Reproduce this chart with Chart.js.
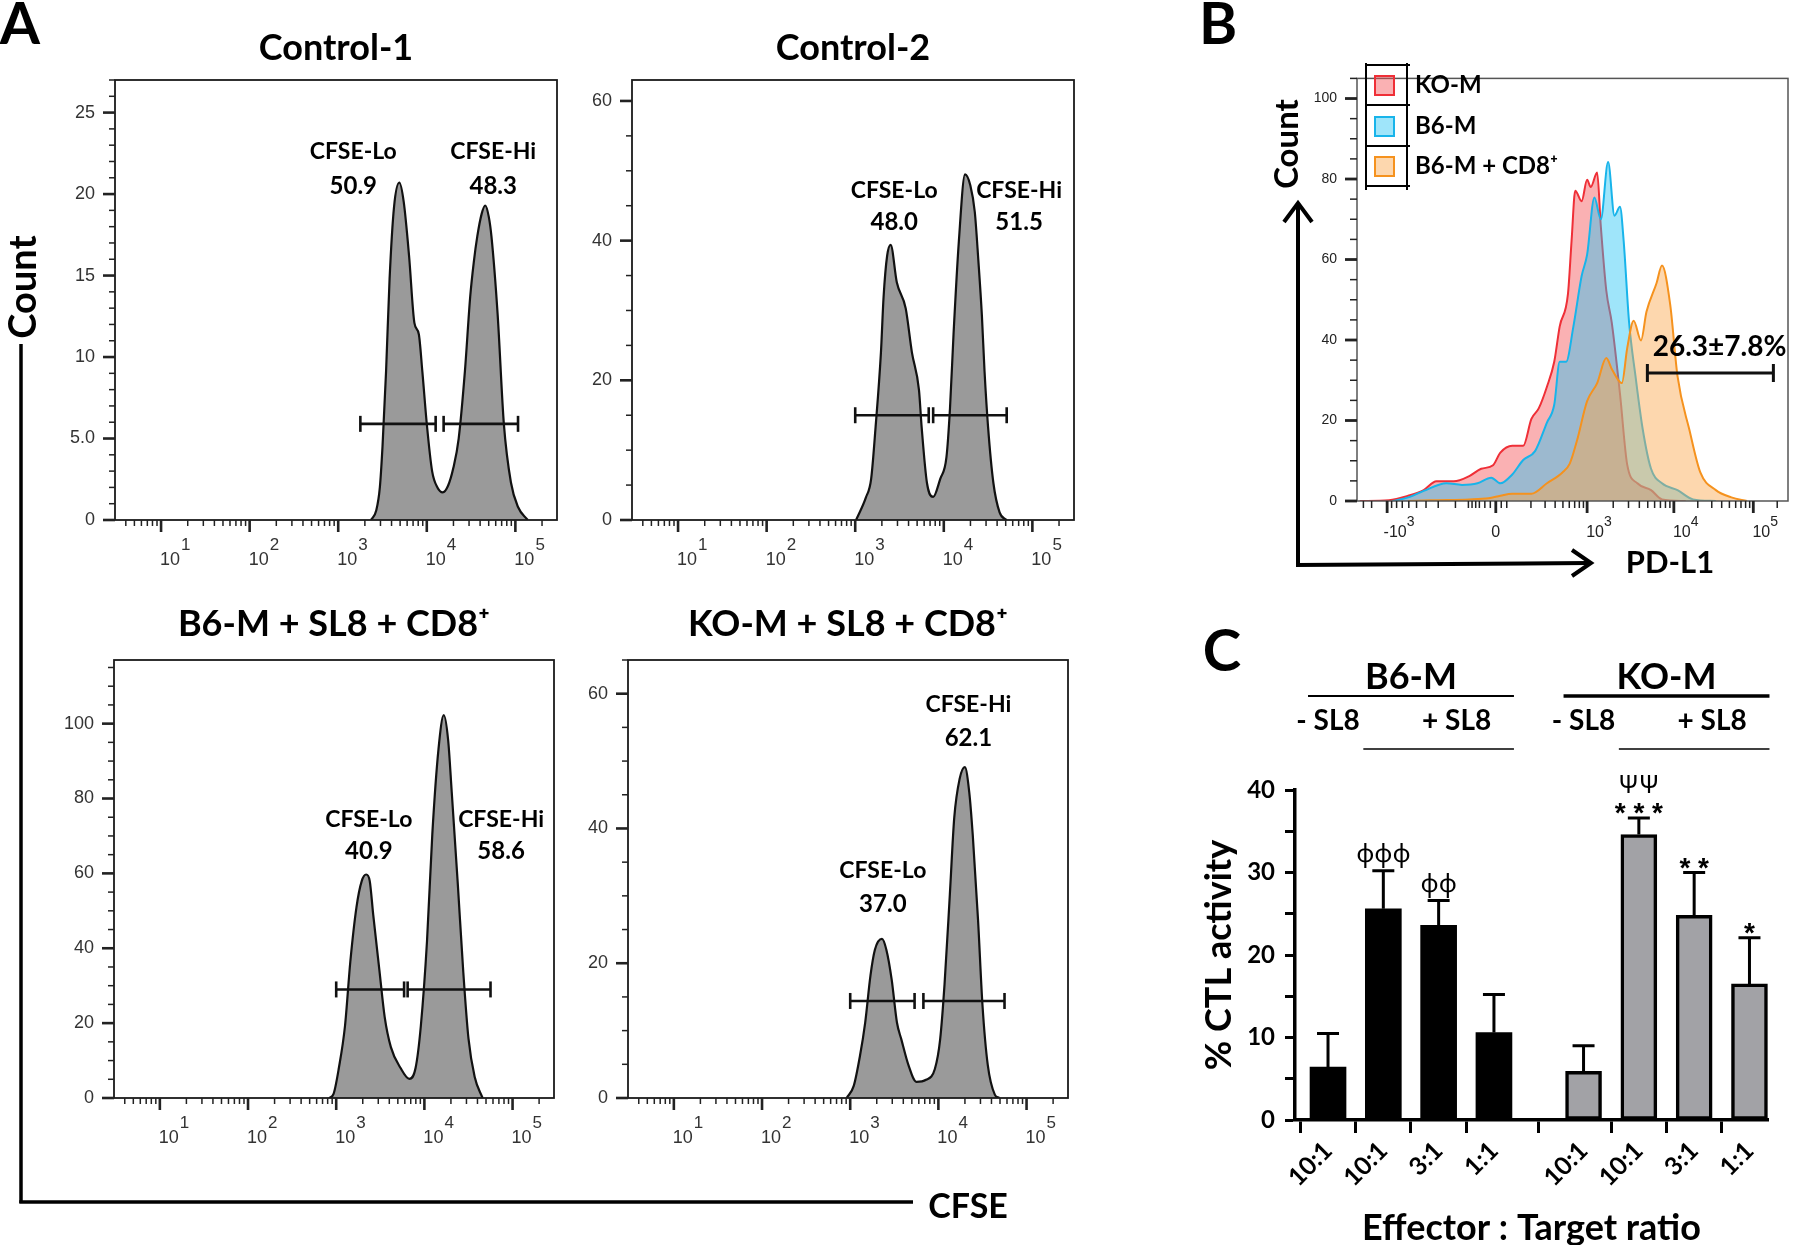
<!DOCTYPE html>
<html lang="en">
<head>
<meta charset="utf-8">
<title>CFSE killing assay, PD-L1 histogram and CTL activity</title>
<script src="https://cdn.jsdelivr.net/npm/chart.js@4.4.1/dist/chart.umd.min.js"></script>
<style>
  html, body { margin:0; padding:0; background:#fff; }
  #fig { position:relative; width:1800px; height:1245px; overflow:hidden; background:#fff; }
  #charts canvas { position:absolute; }
  .txt { position:absolute; font-family:Lato,"Open Sans",sans-serif; font-weight:700; color:#000;
         line-height:1; white-space:nowrap; transform:translate(-50%,-50%); }
  .vert { transform:translate(-50%,-50%) rotate(-90deg); }
  #deco { position:absolute; left:0; top:0; }
  .leg { position:absolute; }
</style>
</head>
<body>
<div id="fig">
  <div id="charts"></div>
  <svg id="deco" width="1800" height="1245">
    <line x1="21" y1="344" x2="21" y2="1203" stroke="#000" stroke-width="3.5"/>
    <line x1="19.3" y1="1202" x2="913" y2="1202" stroke="#000" stroke-width="3.5"/>
    <line x1="1298" y1="566" x2="1298" y2="205" stroke="#000" stroke-width="4"/>
    <polyline points="1284,222 1298,203 1312,222" fill="none" stroke="#000" stroke-width="4"/>
    <line x1="1296" y1="565" x2="1589" y2="563" stroke="#000" stroke-width="4"/>
    <polyline points="1572,550 1591,563 1572,576" fill="none" stroke="#000" stroke-width="4"/>
  </svg>
  <div class="txt" style="left:20px;top:22px;font-size:58px">A</div>
  <div class="txt" style="left:1218px;top:22px;font-size:58px">B</div>
  <div class="txt" style="left:1222px;top:649px;font-size:58px">C</div>
  <div class="txt vert" style="left:21px;top:287px;font-size:38px">Count</div>
  <div class="txt" style="left:968px;top:1205px;font-size:34px">CFSE</div>
  <div class="txt vert" style="left:1285px;top:144px;font-size:33px">Count</div>
  <div class="txt" style="left:1670px;top:561px;font-size:31px">PD-L1</div>
  <div id="legB"></div>
</div>
<script>
// ======================= DATA =======================
// Panel A: CFSE histograms, x = log10(CFSE fluorescence), y = count
const A_X_DECADES = [1, 2, 3, 4, 5];
const A_X_BASE = ['10', '10', '10', '10', '10'];
const A_X_EXP  = ['1', '2', '3', '4', '5'];
const A_GATE_NAMES = ['CFSE-Lo', 'CFSE-Hi'];

const CTRL1_TITLE = 'Control-1';
const CTRL1_X = [3.37,3.43,3.47,3.50,3.54,3.58,3.63,3.69,3.74,3.80,3.86,3.91,3.95,4.00,4.06,4.12,4.18,4.24,4.30,4.36,4.43,4.49,4.53,4.57,4.62,4.66,4.70,4.73,4.80,4.87,4.95,5.03,5.14];
const CTRL1_Y = [0,0.6,2.0,4.5,9.1,14.8,19.2,20.7,19.5,16.2,12.1,11.4,9.1,5.9,3.0,2.0,1.7,2.1,3.2,5.0,9.1,13.7,15.8,17.4,18.8,19.3,18.6,17.4,12.6,5.9,2.3,0.8,0];
const CTRL1_Y_TICKS = ['0', '5.0', '10', '15', '20', '25'];
const CTRL1_GATES = [[3.25, 4.10], [4.19, 5.03]];
const CTRL1_GATE_Y = 5.9;
const CTRL1_PCT = ['50.9', '48.3'];

const CTRL2_TITLE = 'Control-2';
const CTRL2_X = [3.01,3.12,3.18,3.23,3.29,3.32,3.36,3.40,3.47,3.57,3.64,3.72,3.75,3.81,3.88,3.96,4.03,4.07,4.11,4.17,4.24,4.30,4.35,4.39,4.43,4.46,4.50,4.56,4.63,4.71];
const CTRL2_Y = [0,3.2,5.9,13.3,23.9,31.9,37.8,39.4,34,30.3,24,18.6,13.3,5.3,3.3,5.9,9,16,26.6,39.9,49.5,47.9,44.1,37.2,29.3,21.3,13.3,5.3,1.1,0];
const CTRL2_Y_TICKS = ['0', '20', '40', '60'];
const CTRL2_GATES = [[3.00, 3.83], [3.88, 4.71]];
const CTRL2_GATE_Y = 15;
const CTRL2_PCT = ['48.0', '51.5'];

const B6SL8_TITLE = 'B6-M + SL8 + CD8⁺';
const B6SL8_X = [2.92,2.97,3.03,3.10,3.16,3.23,3.29,3.34,3.38,3.42,3.49,3.55,3.62,3.73,3.83,3.90,3.96,4.03,4.09,4.16,4.22,4.27,4.31,4.38,4.44,4.50,4.57,4.66];
const B6SL8_Y = [0,1.1,8,19.3,36.4,51,58,59.7,58,48.9,34.1,21.6,13.6,8,5.1,8,19.3,42,70.5,93.2,102.3,95.5,81.8,56.8,34.1,15.9,5.7,0];
const B6SL8_Y_TICKS = ['0', '20', '40', '60', '80', '100'];
const B6SL8_GATES = [[3.00, 3.77], [3.81, 4.75]];
const B6SL8_GATE_Y = 29;
const B6SL8_PCT = ['40.9', '58.6'];

const KOSL8_TITLE = 'KO-M + SL8 + CD8⁺';
const KOSL8_X = [2.96,3.04,3.11,3.17,3.23,3.28,3.36,3.41,3.47,3.53,3.58,3.66,3.75,3.86,3.96,4.02,4.07,4.13,4.18,4.24,4.30,4.35,4.39,4.45,4.50,4.56,4.64,4.69];
const KOSL8_Y = [0,1.8,6.2,11.2,18.2,22,23.6,22,17.6,11.2,8.7,4.9,2.4,2.7,4.3,8.7,16.9,30.2,41.6,47.3,49.1,45.4,39,26.4,13.8,4.9,0.5,0];
const KOSL8_Y_TICKS = ['0', '20', '40', '60'];
const KOSL8_GATES = [[3.00, 3.73], [3.83, 4.75]];
const KOSL8_GATE_Y = 14.4;
const KOSL8_PCT = ['37.0', '62.1'];

// Panel B: PD-L1 overlay (x in biexponential display units: 0 -> "0", 1 -> 10^3)
const B_SERIES = ['KO-M', 'B6-M', 'B6-M + CD8⁺'];
const B_X_TICK_VALUES = [-1.19, 0, 1, 1.95, 2.82];
const B_X_BASE = ['-10', '0', '10', '10', '10'];
const B_X_EXP  = ['3', '', '3', '4', '5'];
const B_Y_TICKS = ['0', '20', '40', '60', '80', '100'];
const KOM_X = [-1.49,-1.17,-0.96,-0.79,-0.65,-0.46,-0.29,-0.16,-0.03,0.05,0.18,0.30,0.39,0.47,0.56,0.64,0.70,0.79,0.83,0.87,0.94,1.00,1.04,1.11,1.15,1.21,1.27,1.36,1.44,1.55,1.70,1.82,2.08];
const KOM_Y = [0,0.2,1.3,2.7,4.9,4.9,6.2,8,8.9,12,13.7,13.7,20.4,23,28.4,34.6,43.4,51.4,64.7,77.1,74.5,79.8,78,81.6,68.3,52.3,44.3,26.6,8.9,4.4,2.7,0.4,0];
const B6M_X = [-1.13,-0.96,-0.79,-0.54,-0.37,-0.20,-0.05,0.05,0.18,0.30,0.43,0.56,0.64,0.70,0.77,0.85,0.94,1.00,1.08,1.15,1.23,1.30,1.36,1.40,1.46,1.53,1.61,1.70,1.82,1.99,2.16,2.41];
const B6M_Y = [0,0.9,2.5,4.4,4.0,4.4,5.8,4.4,6.6,10.2,12.4,19.5,23.9,34.6,34.6,43.4,55.9,61.2,75.4,70,84.2,70.9,73.1,64.7,44.3,31,17.7,8,4.4,2.7,0.4,0];
const B6CD8_X = [-0.96,-0.71,-0.29,-0.08,0.05,0.18,0.39,0.56,0.73,0.81,0.89,1.00,1.11,1.21,1.27,1.34,1.38,1.44,1.51,1.59,1.65,1.76,1.82,1.91,1.99,2.12,2.24,2.41,2.58,2.75];
const B6CD8_Y = [0,0.2,0.4,0.7,1.3,1.8,1.8,4.4,7.1,9.3,15.1,24.8,29.3,35.5,32.8,30.1,29.3,38.1,44.8,39.9,47,54.1,58.5,48.8,31,17.7,7.1,2.7,0.9,0];
const B_GATE = [1.66, 3.04];
const B_GATE_Y = 31.8;
const B_GATE_LABEL = '26.3±7.8%';

// Panel C: % CTL activity (mean and upper SD)
const C_GROUPS = ['B6-M', 'KO-M'];
const C_PEPTIDE = ['- SL8', '+ SL8'];
const C_RATIOS = ['10:1', '10:1', '3:1', '1:1', '10:1', '10:1', '3:1', '1:1'];
const B6_MEAN = [6.4, 25.6, 23.6, 10.6];
const B6_SD   = [4.1, 4.6, 3.0, 4.6];
const KO_MEAN = [5.9, 34.6, 24.8, 16.5];
const KO_SD   = [3.1, 2.0, 5.2, 5.6];
const B6_SIG  = [[], ['ϕϕϕ'], ['ϕϕ'], []];
const KO_SIG  = [[], ['* * *', 'ΨΨ'], ['* *'], ['*']];
const C_Y_TICKS = ['0', '10', '20', '30', '40'];

// ======================= HELPERS =======================
const BOLD = 'Lato, "Open Sans", sans-serif';
const AXF = '"Liberation Sans", Arial, sans-serif';
const holder = document.getElementById('charts');
function makeCanvas(left, top, width, height) {
  const c = document.createElement('canvas');
  c.width = width; c.height = height;
  c.style.left = left + 'px'; c.style.top = top + 'px';
  c.style.width = width + 'px'; c.style.height = height + 'px';
  holder.appendChild(c);
  return c;
}
const pts = (xs, ys) => xs.map((x, i) => ({ x, y: ys[i] }));
const near = (a, b) => Math.abs(a - b) < 1e-6;

// FlowJo-style ticks (long majors, short minors) and "10^n" labels drawn through the chart's scales
const flowTicks = {
  id: 'flowTicks',
  afterDraw(chart, args, o) {
    if (!o || !o.enabled) return;
    const ctx = chart.ctx, ca = chart.chartArea;
    const xs = chart.scales.x, ys = chart.scales.y;
    const majorsX = o.labelValues || [];
    ctx.save();
    ctx.strokeStyle = o.color;
    xs.ticks.forEach(t => {
      const major = majorsX.some(v => near(v, t.value));
      const px = xs.getPixelForValue(t.value);
      ctx.lineWidth = major ? o.majorWidth : o.minorWidth;
      ctx.beginPath(); ctx.moveTo(px, ca.bottom); ctx.lineTo(px, ca.bottom + (major ? o.majorLen : o.minorLen)); ctx.stroke();
    });
    ys.ticks.forEach(t => {
      const major = !!(t.label && String(t.label).length);
      const py = ys.getPixelForValue(t.value);
      ctx.lineWidth = major ? o.majorWidth : o.minorWidth;
      ctx.beginPath(); ctx.moveTo(ca.left, py); ctx.lineTo(ca.left - (major ? o.majorLen : o.minorLen), py); ctx.stroke();
    });
    // decade labels: base text plus raised exponent
    ctx.fillStyle = o.labelColor; ctx.textBaseline = 'middle';
    majorsX.forEach((v, i) => {
      const px = xs.getPixelForValue(v);
      const base = o.base[i], exp = o.exp[i];
      ctx.font = o.baseFont; ctx.textAlign = 'center';
      if (!exp) { ctx.fillText(base, px, ca.bottom + o.dy); return; }
      ctx.fillText(base, px + o.dx, ca.bottom + o.dy);
      const w = ctx.measureText(base).width;
      ctx.font = o.expFont; ctx.textAlign = 'left';
      ctx.fillText(exp, px + o.dx + w / 2 + o.gap, ca.bottom + o.edy);
    });
    ctx.restore();
  }
};
const frame = {
  id: 'frame',
  afterDatasetsDraw(chart, args, o) {
    if (!o || !o.enabled) return;
    const ctx = chart.ctx, ca = chart.chartArea;
    ctx.save(); ctx.strokeStyle = o.color; ctx.lineWidth = o.width;
    ctx.strokeRect(ca.left, ca.top, ca.right - ca.left, ca.bottom - ca.top);
    ctx.restore();
  }
};
const textMarks = {
  id: 'textMarks',
  afterDatasetsDraw(chart, args, o) {
    if (!o || !o.items) return;
    const ctx = chart.ctx;
    ctx.save(); ctx.textAlign = 'center'; ctx.textBaseline = 'middle'; ctx.fillStyle = '#000';
    o.items.forEach(it => {
      ctx.font = it.font;
      ctx.fillText(it.text, chart.scales.x.getPixelForValue(it.x), chart.scales.y.getPixelForValue(it.y));
    });
    ctx.restore();
  }
};

function logMinorTicks(min, max) {
  const out = [];
  for (let n = 0; n <= 5; n++) for (let k = 1; k <= 9; k++) {
    const v = n + Math.log10(k);
    if (v >= min - 1e-9 && v <= max + 1e-9) out.push(v);
  }
  return out;
}

// ======================= PANEL A =======================
const A_X_MIN = 0.48, A_X_MAX = 5.47;
function flowHist(p) {
  const YW = 62, XH = 52, RP = 12, TS = 36, LH = TS * 1.2;
  const [L, T, R, B] = p.box;
  const left = L - YW;
  const width = (R - L) + YW + RP;
  const height = (B - p.canvasTop) + XH;
  const cv = makeCanvas(left, p.canvasTop, width, height);
  const padTop = p.titleCy - p.canvasTop - LH / 2;
  const padBottom = T - p.canvasTop - padTop - LH;
  const gateDs = (r) => ({
    data: [{ x: r[0], y: p.gateY }, { x: r[1], y: p.gateY }],
    borderColor: '#111', borderWidth: 2.6, fill: false,
    pointStyle: 'line', pointRadius: 8, pointRotation: 90,
    pointBorderWidth: 2.6, pointBorderColor: '#111', order: 0
  });
  const items = [];
  p.labels.forEach((lb, i) => {
    items.push({ text: A_GATE_NAMES[i], x: lb.x, y: lb.nameY, font: '700 23px ' + BOLD });
    items.push({ text: p.pct[i], x: lb.x, y: lb.pctY, font: '700 24px ' + BOLD });
  });
  return new Chart(cv, {
    type: 'line',
    data: { datasets: [
      { data: pts(p.xs, p.ys), borderColor: '#111', backgroundColor: '#9a9a9a', borderWidth: 2.2,
        fill: 'origin', pointRadius: 0, cubicInterpolationMode: 'monotone', order: 2 },
      gateDs(p.gates[0]), gateDs(p.gates[1])
    ]},
    options: {
      responsive: false, animation: false, events: [], devicePixelRatio: 1,
      layout: { padding: { left: 0, right: RP, top: 0, bottom: 0 } },
      plugins: {
        legend: { display: false }, tooltip: { enabled: false },
        title: { display: true, text: p.title, fullSize: false, color: '#000',
                 font: { family: BOLD, size: TS, weight: 'bold' },
                 padding: { top: padTop, bottom: padBottom } },
        flowTicks: { enabled: true, color: '#222', majorLen: 12, minorLen: 6, majorWidth: 2.6, minorWidth: 1.5,
                     labelValues: A_X_DECADES, base: A_X_BASE, exp: A_X_EXP, labelColor: '#333',
                     baseFont: '18px ' + AXF, expFont: '17px ' + AXF, dx: 9, dy: 40, edy: 25, gap: 1 },
        frame: { enabled: true, color: '#1a1a1a', width: 1.8 },
        textMarks: { items }
      },
      scales: {
        x: {
          type: 'linear', min: A_X_MIN, max: A_X_MAX,
          afterBuildTicks: s => { s.ticks = logMinorTicks(A_X_MIN, A_X_MAX).map(v => ({ value: v })); },
          ticks: { display: false },
          grid: { drawOnChartArea: false, drawTicks: false },
          border: { display: false },
          afterFit: s => { s.height = XH; }
        },
        y: {
          type: 'linear', min: 0, max: p.yMax,
          afterBuildTicks: s => { const t = []; for (let v = 0; v <= p.yMax + 1e-9; v += p.yMinor) t.push({ value: v }); s.ticks = t; },
          ticks: { autoSkip: false, padding: 20, font: { family: AXF, size: 18 }, color: '#333',
                   callback: v => { const q = v / p.yMajor; return near(q, Math.round(q)) ? (p.yTicks[Math.round(q)] || '') : ''; } },
          grid: { drawOnChartArea: false, drawTicks: false },
          border: { display: false },
          afterFit: s => { s.width = YW; }
        }
      }
    },
    plugins: [flowTicks, frame, textMarks]
  });
}

flowHist({ title: CTRL1_TITLE, box: [115, 80, 557, 520], canvasTop: 0, titleCy: 48,
  xs: CTRL1_X, ys: CTRL1_Y, yMax: 27, yMinor: 1, yMajor: 5, yTicks: CTRL1_Y_TICKS,
  gates: CTRL1_GATES, gateY: CTRL1_GATE_Y, pct: CTRL1_PCT,
  labels: [{ x: 3.17, nameY: 22.6, pctY: 20.5 }, { x: 4.75, nameY: 22.6, pctY: 20.5 }] });
flowHist({ title: CTRL2_TITLE, box: [632, 80, 1074, 520], canvasTop: 0, titleCy: 48,
  xs: CTRL2_X, ys: CTRL2_Y, yMax: 63, yMinor: 5, yMajor: 20, yTicks: CTRL2_Y_TICKS,
  gates: CTRL2_GATES, gateY: CTRL2_GATE_Y, pct: CTRL2_PCT,
  labels: [{ x: 3.44, nameY: 47.2, pctY: 42.6 }, { x: 4.85, nameY: 47.2, pctY: 42.6 }] });
flowHist({ title: B6SL8_TITLE, box: [114, 660, 554, 1098], canvasTop: 572, titleCy: 624,
  xs: B6SL8_X, ys: B6SL8_Y, yMax: 117, yMinor: 5, yMajor: 20, yTicks: B6SL8_Y_TICKS,
  gates: B6SL8_GATES, gateY: B6SL8_GATE_Y, pct: B6SL8_PCT,
  labels: [{ x: 3.37, nameY: 74.5, pctY: 66 }, { x: 4.87, nameY: 74.5, pctY: 66 }] });
flowHist({ title: KOSL8_TITLE, box: [628, 660, 1068, 1098], canvasTop: 572, titleCy: 624,
  xs: KOSL8_X, ys: KOSL8_Y, yMax: 65, yMinor: 5, yMajor: 20, yTicks: KOSL8_Y_TICKS,
  gates: KOSL8_GATES, gateY: KOSL8_GATE_Y, pct: KOSL8_PCT,
  labels: [{ x: 3.37, nameY: 33.8, pctY: 28.7 }, { x: 4.34, nameY: 58.4, pctY: 53.4 }] });

// ======================= PANEL B =======================
const B_STYLE = [
  { line: '#ef2f37', fill: 'rgba(243,78,82,0.44)' },
  { line: '#18b4ea', fill: 'rgba(36,196,244,0.44)' },
  { line: '#f5921e', fill: 'rgba(250,168,78,0.46)' }
];
(function () {
  const YW = 57, XH = 50;
  const cv = makeCanvas(1300, 50, 500, 501);
  const minor = [];
  const seg = (a, b) => { for (let k = 2; k <= 9; k++) minor.push(a + Math.log10(k) * (b - a)); };
  seg(0.12, 1); seg(1, 1.95); seg(1.95, 2.82); seg(2.82, 3.69);
  for (let k = 2; k <= 9; k++) minor.push(-(0.12 + Math.log10(k) * 1.07));
  const near0 = [-0.30, -0.26, -0.22, -0.18, -0.12, -0.06, 0.06, 0.12, -1.36, -1.45];
  const xMin = -1.52, xMax = 3.2;
  const allTicks = [...B_X_TICK_VALUES, ...minor, ...near0]
    .filter(v => v >= xMin && v <= xMax).sort((a, b) => a - b);
  const mk = (i, xs, ys, order) => ({
    label: B_SERIES[i], data: pts(xs, ys), borderColor: B_STYLE[i].line, backgroundColor: B_STYLE[i].fill,
    fill: 'origin', borderWidth: 2, pointRadius: 0, cubicInterpolationMode: 'monotone', order
  });
  new Chart(cv, {
    type: 'line',
    data: { datasets: [
      mk(0, KOM_X, KOM_Y, 3), mk(1, B6M_X, B6M_Y, 2), mk(2, B6CD8_X, B6CD8_Y, 1),
      { label: 'gate', data: [{ x: B_GATE[0], y: B_GATE_Y }, { x: B_GATE[1], y: B_GATE_Y }],
        borderColor: '#111', borderWidth: 3, fill: false, pointStyle: 'line', pointRadius: 9,
        pointRotation: 90, pointBorderWidth: 3, pointBorderColor: '#111', order: 0 }
    ]},
    options: {
      responsive: false, animation: false, events: [], devicePixelRatio: 1,
      layout: { padding: { left: 0, right: 2, top: 13, bottom: 0 } },
      plugins: {
        legend: { display: false }, tooltip: { enabled: false }, title: { display: false },
        flowTicks: { enabled: true, color: '#222', majorLen: 12, minorLen: 7, majorWidth: 2.8, minorWidth: 1.5,
                     labelValues: B_X_TICK_VALUES, base: B_X_BASE, exp: B_X_EXP, labelColor: '#222',
                     baseFont: '16px ' + AXF, expFont: '14px ' + AXF, dx: 8, dy: 32, edy: 21, gap: 0 },
        frame: { enabled: true, color: '#555', width: 1.5 },
        textMarks: { items: [{ text: B_GATE_LABEL, x: 2.45, y: 38.2, font: '700 28px ' + BOLD }] }
      },
      scales: {
        x: {
          type: 'linear', min: xMin, max: xMax,
          afterBuildTicks: s => { s.ticks = allTicks.map(v => ({ value: v })); },
          ticks: { display: false },
          grid: { drawOnChartArea: false, drawTicks: false }, border: { display: false },
          afterFit: s => { s.height = XH; }
        },
        y: {
          type: 'linear', min: 0, max: 105,
          afterBuildTicks: s => { const t = []; for (let v = 0; v <= 105; v += 5) t.push({ value: v }); s.ticks = t; },
          ticks: { autoSkip: false, padding: 20, font: { family: AXF, size: 14 }, color: '#222',
                   callback: v => (v % 20 === 0 ? (B_Y_TICKS[v / 20] || '') : '') },
          grid: { drawOnChartArea: false, drawTicks: false }, border: { display: false },
          afterFit: s => { s.width = YW; }
        }
      }
    },
    plugins: [flowTicks, frame, textMarks]
  });

  // legend (table-like, top-left inside the plot)
  const leg = document.getElementById('legB');
  const lines = [65, 105, 146, 186];
  const add = (html) => { leg.insertAdjacentHTML('beforeend', html); };
  add('<div class="leg" style="left:1365px;top:63px;width:2px;height:127px;background:#000"></div>');
  add('<div class="leg" style="left:1406px;top:63px;width:2px;height:127px;background:#000"></div>');
  lines.forEach(y => add('<div class="leg" style="left:1365px;top:' + (y - 1) + 'px;width:45px;height:2px;background:#000"></div>'));
  B_SERIES.forEach((name, i) => {
    const cy = (lines[i] + lines[i + 1]) / 2;
    add('<div class="leg" style="left:1374px;top:' + (cy - 10) + 'px;width:17px;height:17px;border:2.5px solid ' +
        B_STYLE[i].line + ';background:' + B_STYLE[i].fill + '"></div>');
    add('<div class="txt" style="left:1415px;top:' + (cy - 1) + 'px;font-size:24px;transform:translate(0,-50%)">' + name + '</div>');
  });
})();

// ======================= PANEL C =======================
(function () {
  const GAP = 0.62;
  const C_POS = C_RATIOS.map((_, i) => i + 1 + (i >= 4 ? GAP : 0));
  const YW = 105, XH = 125;
  const cv = makeCanvas(1190, 640, 610, 605);

  const errAndSig = {
    id: 'errAndSig',
    afterDatasetsDraw(chart) {
      const ctx = chart.ctx, ys = chart.scales.y;
      const sds = [B6_SD, KO_SD], means = [B6_MEAN, KO_MEAN], sigs = [B6_SIG, KO_SIG];
      ctx.save();
      [0, 1].forEach(d => {
        chart.getDatasetMeta(d).data.forEach((bar, j) => {
          const { x, y } = bar.getProps(['x', 'y'], true);
          const top = ys.getPixelForValue(means[d][j] + sds[d][j]);
          ctx.strokeStyle = '#000'; ctx.lineWidth = 3;
          ctx.beginPath(); ctx.moveTo(x, y); ctx.lineTo(x, top);
          ctx.moveTo(x - 11, top); ctx.lineTo(x + 11, top); ctx.stroke();
          ctx.fillStyle = '#000'; ctx.textAlign = 'center'; ctx.textBaseline = 'alphabetic';
          sigs[d][j].forEach(s => {
            if (s.indexOf('*') >= 0) { ctx.font = '700 28px ' + AXF; ctx.fillText(s, x, top + 4); }
            else if (s.indexOf('Ψ') >= 0) { ctx.font = '400 25px "Noto Sans", "DejaVu Sans", sans-serif'; ctx.fillText(s, x, top - 25); }
            else { ctx.font = '400 25px "Noto Sans", "DejaVu Sans", sans-serif'; ctx.fillText(s, x, top - 9); }
          });
        });
      });
      ctx.restore();
    }
  };
  const headers = {
    id: 'headers',
    afterDraw(chart) {
      const ctx = chart.ctx, ca = chart.chartArea;
      ctx.save(); ctx.fillStyle = '#000'; ctx.strokeStyle = '#000';
      ctx.textAlign = 'center'; ctx.textBaseline = 'middle';
      [0, 1].forEach(d => {
        const bars = chart.getDatasetMeta(d).data.map(b => b.getProps(['x', 'width'], true));
        const l = bars[0].x - bars[0].width / 2 - 2, r = bars[3].x + bars[3].width / 2 + 2;
        ctx.font = '700 36px ' + BOLD;
        ctx.fillText(C_GROUPS[d], (l + r) / 2, ca.top - 113);
        ctx.lineWidth = d === 0 ? 2 : 3.5;
        ctx.beginPath(); ctx.moveTo(l, ca.top - 94); ctx.lineTo(r, ca.top - 94); ctx.stroke();
        ctx.font = '700 28px ' + BOLD;
        ctx.fillText(C_PEPTIDE[0], bars[0].x, ca.top - 69);
        const l2 = bars[1].x - bars[1].width / 2 - 2;
        ctx.fillText(C_PEPTIDE[1], (l2 + r) / 2 + 18, ca.top - 69);
        ctx.lineWidth = 1.5;
        ctx.beginPath(); ctx.moveTo(l2, ca.top - 41); ctx.lineTo(r, ca.top - 41); ctx.stroke();
      });
      ctx.restore();
    }
  };

  new Chart(cv, {
    type: 'bar',
    data: { datasets: [
      { label: C_GROUPS[0], data: B6_MEAN.map((v, i) => ({ x: C_POS[i], y: v })),
        backgroundColor: '#000', borderColor: '#000', borderWidth: 0, barThickness: 36, grouped: false },
      { label: C_GROUPS[1], data: KO_MEAN.map((v, i) => ({ x: C_POS[i + 4], y: v })),
        backgroundColor: '#a2a2a6', borderColor: '#000', borderWidth: 3.5, borderSkipped: false,
        barThickness: 36, grouped: false }
    ]},
    options: {
      responsive: false, animation: false, events: [], devicePixelRatio: 1,
      layout: { padding: { left: 0, right: 32, top: 150, bottom: 0 } },
      plugins: { legend: { display: false }, tooltip: { enabled: false } },
      scales: {
        x: {
          type: 'linear', min: 0.403, max: 8.955, offset: false,
          afterBuildTicks: s => { s.ticks = C_POS.map(v => ({ value: v })); },
          ticks: { autoSkip: false, minRotation: 45, maxRotation: 45, padding: 3,
                   font: { family: BOLD, size: 25, weight: 'bold' }, color: '#000',
                   callback: (v, i) => C_RATIOS[i] },
          grid: { drawOnChartArea: false, drawTicks: true, tickLength: 13, tickWidth: 3, tickColor: '#000' },
          border: { display: true, color: '#000', width: 3.5 },
          title: { display: true, text: 'Effector : Target ratio', color: '#000',
                   font: { family: BOLD, size: 36, weight: 'bold' }, padding: { top: 0, bottom: -5 } },
          afterFit: s => { s.height = XH; }
        },
        y: {
          type: 'linear', min: 0, max: 40,
          afterBuildTicks: s => { const t = []; for (let v = 0; v <= 40; v += 5) t.push({ value: v }); s.ticks = t; },
          ticks: { autoSkip: false, padding: 10, font: { family: BOLD, size: 24, weight: 'bold' }, color: '#000',
                   callback: v => (v % 10 === 0 ? C_Y_TICKS[v / 10] : '') },
          grid: { drawOnChartArea: false, drawTicks: true, tickLength: 10, tickWidth: 3, tickColor: '#000' },
          border: { display: true, color: '#000', width: 3.5 },
          title: { display: true, text: '% CTL activity', color: '#000',
                   font: { family: BOLD, size: 36, weight: 'bold' }, padding: { top: 8, bottom: 0 } },
          afterFit: s => { s.width = YW; }
        }
      }
    },
    plugins: [errAndSig, headers]
  });
})();
</script>
</body>
</html>
